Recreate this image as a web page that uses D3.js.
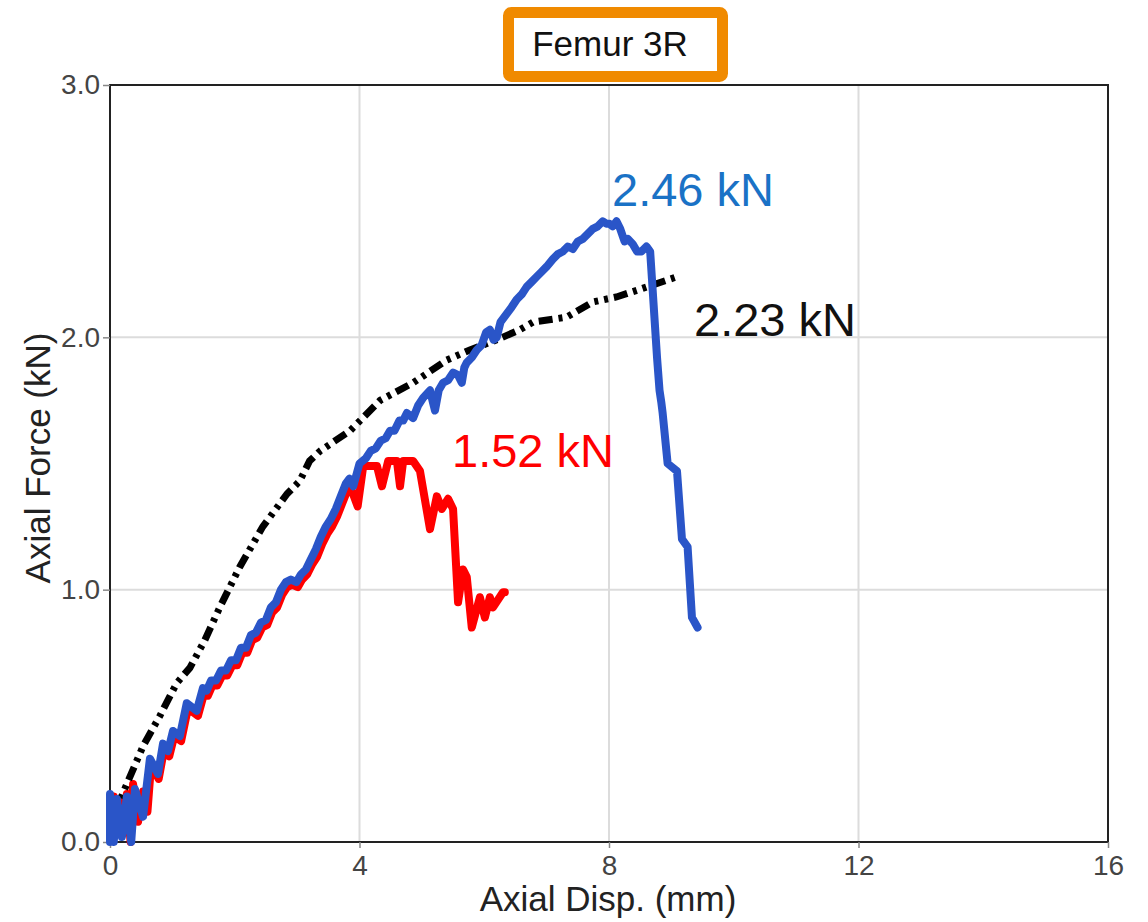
<!DOCTYPE html>
<html>
<head>
<meta charset="utf-8">
<script src="https://cdn.jsdelivr.net/npm/d3@7"></script>
<style>
  body { margin: 0; background: #fff; }
  svg { display: block; font-family: "Liberation Sans", Arial, sans-serif; }
</style>
</head>
<body>
<svg id="chart" width="1148" height="922"></svg>
<script>
// ---- data (Axial Disp. mm, Axial Force kN) ----
const blueX = [0,0,0.06,0.11,0.19,0.27,0.34,0.40,0.53,0.64,0.77,0.85,0.93,1.01,1.12,1.23,1.39,1.49,1.55,1.62,1.70,1.78,1.86,1.94,2.02,2.10,2.18,2.26,2.34,2.42,2.50,2.58,2.66,2.74,2.82,2.90,2.99,3.06,3.14,3.22,3.30,3.38,3.46,3.54,3.62,3.70,3.78,3.84,3.90,4.00,4.10,4.18,4.26,4.34,4.42,4.49,4.56,4.64,4.70,4.76,4.86,4.94,5.02,5.13,5.18,5.21,5.27,5.34,5.42,5.50,5.58,5.64,5.68,5.72,5.80,5.88,5.96,6.03,6.09,6.15,6.20,6.26,6.35,6.44,6.52,6.60,6.68,6.76,6.84,6.92,7.00,7.10,7.18,7.26,7.34,7.42,7.50,7.58,7.66,7.74,7.82,7.90,7.96,8.01,8.06,8.12,8.18,8.25,8.30,8.38,8.45,8.52,8.60,8.66,8.77,8.81,8.84,8.86,8.94,9.09,9.17,9.26,9.33,9.42];
const blueY = [0,0.19,0,0.17,0.02,0.18,0,0.21,0.10,0.33,0.27,0.39,0.36,0.44,0.42,0.55,0.52,0.61,0.60,0.64,0.64,0.68,0.68,0.72,0.72,0.77,0.77,0.82,0.83,0.87,0.88,0.93,0.95,1.00,1.03,1.04,1.03,1.06,1.08,1.12,1.16,1.21,1.25,1.28,1.32,1.37,1.42,1.44,1.41,1.50,1.52,1.55,1.56,1.59,1.60,1.63,1.63,1.67,1.67,1.70,1.68,1.73,1.76,1.79,1.74,1.71,1.79,1.82,1.83,1.86,1.85,1.82,1.88,1.90,1.92,1.95,1.97,2.02,2.03,1.99,2.00,2.06,2.09,2.12,2.15,2.17,2.20,2.22,2.24,2.26,2.28,2.31,2.33,2.34,2.36,2.35,2.38,2.39,2.41,2.43,2.44,2.46,2.45,2.45,2.44,2.46,2.43,2.38,2.39,2.37,2.34,2.34,2.36,2.34,1.92,1.79,1.74,1.70,1.50,1.47,1.20,1.17,0.89,0.85];

const redX = [0,0.03,0.06,0.10,0.15,0.20,0.27,0.33,0.37,0.45,0.53,0.60,0.66,0.78,0.87,0.95,1.03,1.14,1.25,1.41,1.51,1.57,1.64,1.72,1.80,1.88,1.96,2.04,2.12,2.20,2.28,2.36,2.44,2.52,2.60,2.68,2.76,2.84,2.92,3.01,3.08,3.16,3.24,3.32,3.40,3.48,3.56,3.64,3.72,3.80,3.85,3.97,4.06,4.28,4.36,4.46,4.60,4.65,4.70,4.86,4.97,5.13,5.24,5.32,5.42,5.50,5.58,5.66,5.72,5.80,5.93,6.01,6.09,6.14,6.30,6.33];
const redY = [0.02,0.12,0.18,0.05,0.16,0.03,0.19,0,0.23,0.08,0.20,0.12,0.31,0.25,0.37,0.34,0.42,0.40,0.53,0.50,0.59,0.58,0.62,0.62,0.66,0.66,0.70,0.70,0.75,0.75,0.80,0.81,0.85,0.86,0.91,0.93,0.98,1.01,1.02,1.01,1.04,1.06,1.10,1.13,1.18,1.22,1.25,1.29,1.34,1.39,1.41,1.33,1.49,1.49,1.41,1.51,1.51,1.41,1.51,1.51,1.47,1.24,1.37,1.32,1.36,1.32,0.95,1.08,1.05,0.85,0.97,0.89,0.97,0.93,0.99,0.99];

const blackX = [0.05,0.27,0.53,0.80,1.07,1.28,1.52,1.76,2.08,2.45,2.84,3.04,3.20,3.37,3.85,4.33,4.86,5.40,5.77,6.20,6.57,6.78,7.32,7.74,8.12,8.49,9.09];
const blackY = [0.10,0.23,0.38,0.50,0.63,0.69,0.80,0.93,1.09,1.25,1.38,1.43,1.51,1.55,1.63,1.75,1.82,1.91,1.95,1.99,2.03,2.06,2.08,2.14,2.16,2.19,2.24];

const xTicks = [0, 4, 8, 12, 16];
const yTicks = [0, 1, 2, 3];
const peakLabels = ["2.46 kN", "2.23 kN", "1.52 kN"];
const titleText = "Femur 3R";
const xTitle = "Axial Disp. (mm)";
const yTitle = "Axial Force (kN)";

// ---- drawing ----
const svg = d3.select("#chart");
const x = d3.scaleLinear().domain([0, 16]).range([110, 1108]);
const y = d3.scaleLinear().domain([0, 3]).range([842, 85]);

// gridlines
const grid = svg.append("g");
grid.selectAll("line.vx").data(xTicks.slice(1, -1)).join("line")
  .attr("x1", d => x(d)).attr("x2", d => x(d)).attr("y1", y(0)).attr("y2", y(3))
  .attr("stroke", "#dcdcdc").attr("stroke-width", 2);
grid.selectAll("line.hy").data(yTicks.slice(1, -1)).join("line")
  .attr("x1", x(0)).attr("x2", x(16)).attr("y1", d => y(d)).attr("y2", d => y(d))
  .attr("stroke", "#dcdcdc").attr("stroke-width", 2);

// frame
svg.append("rect").attr("x", x(0)).attr("y", y(3))
  .attr("width", x(16) - x(0)).attr("height", y(0) - y(3))
  .attr("fill", "none").attr("stroke", "#222").attr("stroke-width", 2);

// axes
const yAxis = svg.append("g").attr("transform", `translate(${x(0)},0)`)
  .call(d3.axisLeft(y).tickValues(yTicks).tickFormat(d3.format(".1f")).tickSize(7).tickPadding(3));
const xAxis = svg.append("g").attr("transform", `translate(0,${y(0)})`)
  .call(d3.axisBottom(x).tickValues(xTicks).tickFormat(d3.format("d")).tickSize(6).tickPadding(7));
[xAxis, yAxis].forEach(a => {
  a.select(".domain").remove();
  a.selectAll("line").attr("stroke", "#888").attr("stroke-width", 1.5);
  a.selectAll("text").attr("fill", "#444").attr("font-size", 28)
    .attr("font-family", "'Liberation Sans', Arial, sans-serif");
});

// axis titles
svg.append("text").attr("x", 608).attr("y", 911).attr("text-anchor", "middle")
  .attr("font-size", 35).attr("fill", "#222").text(xTitle);
svg.append("text").attr("transform", "translate(50,458) rotate(-90)").attr("text-anchor", "middle")
  .attr("font-size", 35).attr("fill", "#222").text(yTitle);

// lines
const line = d3.line().x(d => x(d[0])).y(d => y(d[1]));
const redPts = redX.map((v, i) => [v, redY[i]]);
const bluePts = blueX.map((v, i) => [v, blueY[i]]);
const blackPts = blackX.map((v, i) => [v, blackY[i]]);

svg.append("path").datum(redPts).attr("d", line).attr("fill", "none")
  .attr("stroke", "#ff0000").attr("stroke-width", 8).attr("stroke-linejoin", "round").attr("stroke-linecap", "round");
svg.append("path").datum(blackPts).attr("d", line).attr("fill", "none")
  .attr("stroke", "#000").attr("stroke-width", 7).attr("stroke-dasharray", "14,6,4,6,4,6");
svg.append("path").datum(bluePts).attr("d", line).attr("fill", "none")
  .attr("stroke", "#2a55c8").attr("stroke-width", 8).attr("stroke-linejoin", "round").attr("stroke-linecap", "round");

// peak labels
const labelPos = [[612, 206, "#1a72c6"], [694, 336, "#111"], [452, 467, "#ff0000"]];
svg.selectAll("text.peak").data(peakLabels).join("text").attr("class", "peak")
  .attr("x", (d, i) => labelPos[i][0]).attr("y", (d, i) => labelPos[i][1])
  .attr("fill", (d, i) => labelPos[i][2]).attr("font-size", 47).text(d => d);

// title box
svg.append("rect").attr("x", 508.5).attr("y", 12.5).attr("width", 214).attr("height", 64)
  .attr("rx", 3).attr("fill", "#fff").attr("stroke", "#f08a00").attr("stroke-width", 11);
svg.append("text").attr("x", 610).attr("y", 56).attr("text-anchor", "middle")
  .attr("font-size", 35).attr("fill", "#111").text(titleText);
</script>
</body>
</html>
